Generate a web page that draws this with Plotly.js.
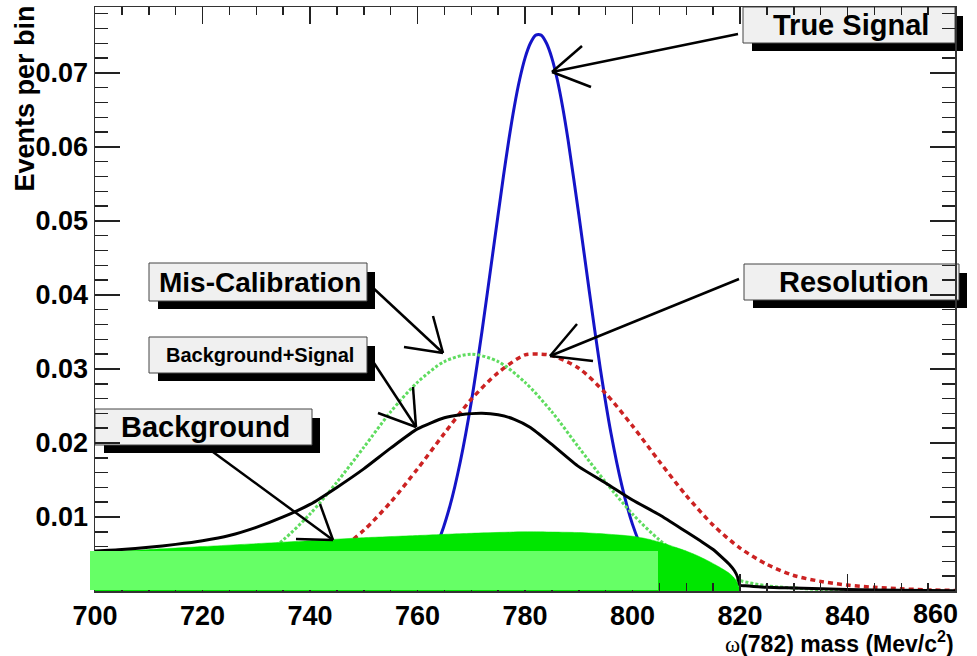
<!DOCTYPE html>
<html>
<head>
<meta charset="utf-8">
<script src="https://cdn.plot.ly/plotly-3.0.1.min.js"></script>
<style>html,body{margin:0;padding:0;background:#fff;}#chart{width:977px;height:656px;}</style>
</head>
<body>
<div id="chart"></div>
<script>
// ---- data ----
const signalX = [745, 750, 755, 760, 764, 766, 768, 770, 772, 774, 776, 777, 778, 779, 780, 781, 782, 783, 784, 785, 786, 787, 788, 790, 792, 794, 796, 798, 800, 802, 805, 810, 815, 820];
const signalY = [0.00001, 0.00005, 0.0004, 0.0023, 0.0070, 0.0114, 0.0176, 0.0255, 0.0351, 0.0456, 0.0561, 0.0610, 0.0654, 0.0691, 0.0720, 0.0740, 0.0751, 0.0751, 0.0740, 0.0720, 0.0691, 0.0654, 0.0610, 0.0509, 0.0403, 0.0301, 0.0213, 0.0143, 0.0090, 0.0054, 0.0023, 0.0004, 0.00005, 0.0];

const resolutionX = [700, 710, 720, 730, 735, 740, 745, 750, 755, 760, 765, 770, 775, 780, 783, 785, 790, 795, 800, 805, 810, 815, 820, 825, 830, 835, 840, 845, 850, 855, 860];
const resolutionY = [0.0000, 0.00004, 0.0002, 0.0010, 0.0018, 0.0032, 0.0053, 0.0082, 0.0120, 0.0165, 0.0213, 0.0259, 0.0295, 0.0319, 0.0320, 0.0318, 0.0301, 0.0267, 0.0223, 0.0175, 0.0129, 0.0089, 0.0058, 0.0036, 0.0021, 0.0013, 0.0008, 0.0005, 0.0003, 0.00015, 0.00008];

const miscalX = [700, 710, 720, 725, 730, 735, 740, 745, 750, 755, 760, 765, 770, 775, 780, 785, 790, 795, 800, 805, 810, 815, 820, 825, 830, 835, 840];
const miscalY = [0.00007, 0.0004, 0.0014, 0.0026, 0.0043, 0.0069, 0.0104, 0.0147, 0.0194, 0.0242, 0.0282, 0.0310, 0.0320, 0.0310, 0.0282, 0.0242, 0.0194, 0.0147, 0.0104, 0.0069, 0.0043, 0.0026, 0.0014, 0.0007, 0.0004, 0.0002, 0.0001];

const bkgSigX = [700, 705, 710, 715, 720, 725, 730, 735, 740, 745, 750, 755, 760, 765, 768, 772, 775, 778, 781, 785, 790, 795, 800, 805, 810, 813, 815, 817, 818, 819, 819.6, 820, 821, 825, 830, 840, 850, 860];
const bkgSigY = [0.0054, 0.0056, 0.0059, 0.0063, 0.0068, 0.0075, 0.0086, 0.0100, 0.0117, 0.0140, 0.0165, 0.0193, 0.0219, 0.0234, 0.0238, 0.0240, 0.0238, 0.0232, 0.0221, 0.0198, 0.0168, 0.0146, 0.0123, 0.0103, 0.0080, 0.0066, 0.0056, 0.0043, 0.0036, 0.0027, 0.0018, 0.0008, 0.0007, 0.0005, 0.0004, 0.0002, 0.0001, 0.00005];

const backgroundX = [700, 710, 720, 730, 740, 750, 760, 770, 780, 790, 795, 800, 803, 806, 808, 810, 812, 814, 816, 818, 819, 819.6, 820];
const backgroundY = [0.0052, 0.0056, 0.0060, 0.0064, 0.0068, 0.0072, 0.0075, 0.0078, 0.0080, 0.0079, 0.0077, 0.0074, 0.0070, 0.0064, 0.0059, 0.0054, 0.0048, 0.0041, 0.0033, 0.0024, 0.0017, 0.0010, 0.0];

const yTickVals = [0.01, 0.02, 0.03, 0.04, 0.05, 0.06, 0.07];
const yTickText = ['0.01', '0.02', '0.03', '0.04', '0.05', '0.06', '0.07'];
const xTickVals = [700, 720, 740, 760, 780, 800, 820, 840, 860];
const xTickText = ['700', '720', '740', '760', '780', '800', '820', '840', '860'];

const labelTexts = ['True Signal', 'Resolution', 'Mis-Calibration', 'Background+Signal', 'Background'];
const yTitle = 'Events per bin';
const xTitle = '<span style="font-family:\'Liberation Serif\';font-weight:normal">ω</span>(782) mass (Mev/c<sup>2</sup>)';

// ---- layout helpers (pixel -> paper) ----
const PX0 = 95, PX1 = 955, PY0 = 591, PY1 = 7;
const fx = p => (p - PX0) / (PX1 - PX0);
const fy = p => (PY0 - p) / (PY0 - PY1);
const FONT = '"Liberation Sans", Arial, Helvetica, sans-serif';

const traces = [
  {x: signalX, y: signalY, mode: 'lines', line: {color: '#1414c8', width: 3, shape: 'spline', smoothing: 0.8}, hoverinfo: 'skip'},
  {x: resolutionX, y: resolutionY, mode: 'lines', line: {color: '#cc2222', width: 3.5, dash: '5px,4px', shape: 'spline', smoothing: 0.8}, hoverinfo: 'skip'},
  {x: miscalX, y: miscalY, mode: 'lines', line: {color: '#5fdc5f', width: 3, dash: '3px,2px', shape: 'spline', smoothing: 0.8}, hoverinfo: 'skip'},
  {x: backgroundX, y: backgroundY, mode: 'lines', fill: 'tozeroy', fillcolor: '#00e600', line: {color: '#00e600', width: 0.5, shape: 'spline', smoothing: 0.6}, hoverinfo: 'skip'},
  {x: bkgSigX, y: bkgSigY, mode: 'lines', line: {color: '#000000', width: 3, shape: 'spline', smoothing: 0.6}, hoverinfo: 'skip'}
];

const boxes = [
  {l: 743, t: 7, r: 955, b: 43, size: 29},
  {l: 744, t: 264, r: 959, b: 300, size: 29},
  {l: 149, t: 263, r: 367, b: 301, size: 28},
  {l: 149, t: 337, r: 367, b: 373, size: 20},
  {l: 95, t: 409, r: 312, b: 445, size: 29}
];
const arrows = [
  [[738, 34], [552, 72], [582, 46], [591, 87]],
  [[739, 279], [550, 356], [577, 324], [593, 361]],
  [[371, 286], [443, 353], [433, 316], [404, 347]],
  [[372, 360], [416, 427], [413, 387], [378, 413]],
  [[213, 452], [333, 540], [320, 504], [296, 539]]
];

const shapes = [];
// label boxes with drop shadows (drawn under the axis ticks, as in the reference)
boxes.forEach(b => {
  shapes.push({type: 'rect', xref: 'paper', yref: 'paper', x0: fx(b.l + 9), x1: fx(b.r + 8), y0: fy(b.b + 8), y1: fy(b.t + 9), fillcolor: '#000', line: {width: 0}, layer: 'below'});
  shapes.push({type: 'rect', xref: 'paper', yref: 'paper', x0: fx(b.l), x1: fx(b.r), y0: fy(b.b), y1: fy(b.t), fillcolor: '#f0f0f0', line: {color: '#444', width: 1}, layer: 'below'});
});
// light green box at the bottom
shapes.push({type: 'rect', xref: 'paper', yref: 'paper', x0: fx(90), x1: fx(658), y0: fy(590), y1: fy(551), fillcolor: '#66ff66', line: {width: 0}, layer: 'above'});
function seg(a, b) {
  return {type: 'line', xref: 'paper', yref: 'paper', x0: fx(a[0]), y0: fy(a[1]), x1: fx(b[0]), y1: fy(b[1]), line: {color: '#000', width: 2.5}, layer: 'above'};
}
arrows.forEach(a => { shapes.push(seg(a[0], a[1])); shapes.push(seg(a[1], a[2])); shapes.push(seg(a[1], a[3])); });

const annotations = boxes.map((b, i) => ({
  xref: 'paper', yref: 'paper', x: fx((b.l + b.r) / 2 + 2), y: fy((b.t + b.b) / 2), xanchor: 'center', yanchor: 'middle',
  text: labelTexts[i], showarrow: false, font: {family: FONT, size: b.size, color: '#000', weight: 'bold'}
}));
annotations.push({xref: 'paper', yref: 'paper', x: fx(24.5), y: fy(4), xanchor: 'center', yanchor: 'top', textangle: -90,
  text: yTitle, showarrow: false, font: {family: FONT, size: 27, color: '#000', weight: 'bold'}});
annotations.push({xref: 'paper', yref: 'paper', x: 1, y: fy(642), xanchor: 'right', yanchor: 'middle', borderpad: 0,
  text: xTitle, showarrow: false, font: {family: FONT, size: 23, color: '#000', weight: 'bold'}});
// last x tick label, pulled inside the page as in the reference
annotations.push({xref: 'paper', yref: 'paper', x: fx(935), y: fy(598), xanchor: 'center', yanchor: 'top', borderpad: 0,
  text: xTickText[xTickText.length - 1], showarrow: false, font: {family: FONT, size: 27, color: '#000', weight: 'bold'}});

const axisCommon = {
  showline: true, linecolor: '#333', linewidth: 1.5, mirror: 'ticks', ticks: 'inside', tickcolor: '#222', tickwidth: 1.5,
  showgrid: false, zeroline: false, tickfont: {family: FONT, size: 27, color: '#000', weight: 'bold'}, fixedrange: true
};

const layout = {
  width: 977, height: 656, autosize: false,
  margin: {l: PX0, r: 977 - PX1, t: PY1, b: 656 - PY0, pad: 0},
  paper_bgcolor: '#ffffff', plot_bgcolor: 'rgba(0,0,0,0)', showlegend: false,
  xaxis: Object.assign({}, axisCommon, {range: [700, 860], tickmode: 'array', tickvals: xTickVals.slice(0, -1), ticktext: xTickText.slice(0, -1), ticklen: 17,
    minor: {tickmode: 'linear', tick0: 700, dtick: 5, ticklen: 8, ticks: 'inside', tickcolor: '#222', tickwidth: 1.5}}),
  yaxis: Object.assign({}, axisCommon, {range: [0, 0.0789], tickmode: 'array', tickvals: yTickVals, ticktext: yTickText, ticklen: 25,
    minor: {tickmode: 'linear', tick0: 0, dtick: 0.002, ticklen: 13, ticks: 'inside', tickcolor: '#222', tickwidth: 1.5}}),
  shapes: shapes, annotations: annotations
};

Plotly.newPlot('chart', traces, layout, {staticPlot: true, displayModeBar: false});
</script>
</body>
</html>
